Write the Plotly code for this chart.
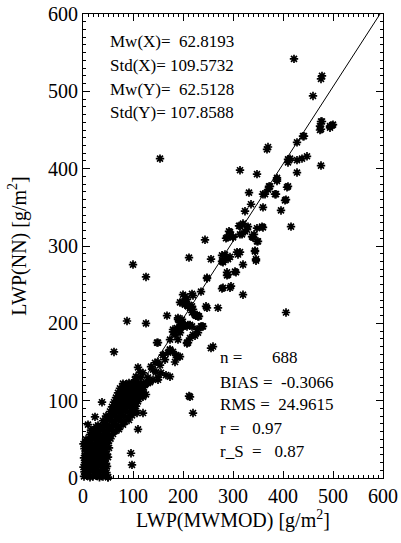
import plotly.graph_objects as go

# ---- data (LWP(MWMOD) , LWP(NN)), g/m^2 ----
cluster_points = [
    (2,2),(8,3),(14,1),(20,2),(27,3),(33,1),(40,2),(46,3),(50,1),
    (3,8),(10,7),(16,9),(23,8),(29,7),(36,9),(42,8),(47,7),
    (1,14),(7,13),(13,15),(19,14),(25,13),(31,15),(38,14),(44,13),(48,15),
    (4,20),(10,19),(16,21),(22,20),(28,19),(35,21),(41,20),(46,19),
    (2,26),(8,25),(14,27),(20,26),(26,25),(33,27),(39,26),(45,25),(50,27),
    (5,32),(11,31),(17,33),(23,32),(30,31),(36,33),(42,32),(48,31),
    (3,38),(9,37),(15,39),(21,38),(28,37),(34,39),(40,38),(46,37),(52,39),
    (1,44),(7,43),(13,45),(19,44),(26,43),(32,45),(38,44),(44,43),(50,45),
    (6,50),(12,49),(18,51),(24,50),(30,49),(37,51),(43,50),(49,49),(55,51),
    (14,56),(20,55),(24,57),(28,56),(34,55),(41,57),(47,56),(53,55),(60,57),
    (22,62),(28,61),(34,63),(40,62),(46,61),(52,63),(58,62),(65,61),(72,63),
    (30,68),(36,67),(42,69),(48,68),(54,67),(60,69),(66,68),(72,67),(80,69),
    (40,74),(46,73),(52,75),(58,74),(64,73),(70,75),(76,74),(84,73),(92,75),
    (46,80),(52,79),(58,81),(64,80),(70,79),(76,81),(82,80),(90,79),(98,81),
    (54,86),(60,85),(66,87),(72,86),(78,85),(84,87),(90,86),(98,85),(104,87),
    (58,92),(64,91),(70,93),(76,92),(82,91),(88,93),(94,92),(100,91),(106,93),
    (62,98),(68,97),(74,99),(80,98),(86,97),(92,99),(98,98),(104,97),(110,99),
    (66,104),(72,103),(78,105),(84,104),(90,103),(96,105),(102,104),(108,103),(114,105),
    (70,110),(76,109),(82,111),(88,110),(94,109),(100,111),(106,110),(112,109),(118,111),
    (74,116),(80,115),(86,117),(92,116),(98,115),(104,117),(110,116),(116,115),(122,117),
    (80,122),(86,121),(92,123),(98,122),(104,121),(110,123),(116,122),(124,121),(130,123),
    (10,69),(16,62),(26,66),(24,79),(38,98),(50,1),(96,32),(98,17),(110,63),
    (108,84),(120,84),(106,124),(130,124),(150,127),
]

band_points = [
    (84,111),(90,110),(96,108),(104,111),(114,110),(120,111),(126,108),
    (86,105),(100,104),(110,105),(120,105),
    (104,127),(106,123),(100,118),(110,117),(116,118),
    (130,130),(134,124),(126,123),(140,127),(150,130),
    (110,143),(114,137),(120,136),(106,131),(116,130),
    (136,144),(140,140),(146,137),(156,136),(166,133),(174,131),
    (150,150),(144,149),(154,146),(160,159),(164,153),
    (174,166),(170,162),(186,159),(194,157),(184,150),
    (180,189),(184,185),(174,179),(190,179),
    (196,202),(194,192),(204,198),(214,197),
    (236,196),(230,188),(224,184),(226,210),
    (194,227),(204,225),(212,224),
    (148,175),(210,175),(256,168),(212,106),(220,84),(214,105),
    (62,163),(88,203),(126,200),(168,210),(150,175),(208,174),(260,170),
    (174,166),(180,163),(160,159),(190,157),(188,156),
    (188,192),(184,188),(228,192),(220,185),(214,181),
    (190,207),(198,205),(214,198),(208,196),(194,201),(240,196),
    (190,205),(198,201),(204,197),(210,198),(218,196),(188,194),(194,194),
    (218,214),(230,209),(224,211),(238,196),(208,175),
    (180,192),(194,188),(200,196),
    (200,227),(210,222),(218,222),(248,220),(270,220),(228,211),(232,209),
    (200,237),(208,231),(218,238),(220,236),(204,235),(236,241),(246,222),
    (198,227),(204,224),(214,220),(220,218),(230,209),
    (100,276),(126,260),(212,285),(244,308),(256,283),(248,259),(248,258),
    (280,246),(294,246),(296,248),(278,245),(320,237),
    (278,280),(290,283),(284,289),(280,281),(280,279),
    (304,267),(290,263),(288,262),(288,266),(306,266),
    (308,292),(314,292),(310,289),(294,286),(278,288),
    (320,276),(344,293),(346,281),(344,294),(346,283),
]

upper_points = [
    (288,311),(294,318),(300,312),(286,310),(300,311),(314,315),
    (314,326),(318,315),(324,319),(312,326),(292,319),(320,329),
    (330,325),(338,312),(342,315),(350,306),(340,311),(348,306),
    (360,324),(358,325),(328,321),(348,323),(416,325),
    (324,345),(336,354),(360,350),(396,346),(406,360),(404,359),
    (360,367),(364,367),(332,369),(386,367),(384,367),(408,376),(410,377),
    (372,377),(374,377),(370,373),(388,384),(388,386),
    (154,413),(368,425),(370,428),(314,398),(348,393),(388,388),
    (410,412),(414,413),(412,411),(410,408),(428,411),(438,413),(448,416),
    (428,395),(476,404),(428,434),(440,442),(442,442),
    (476,451),(476,461),(478,461),(474,455),(474,450),
    (494,455),(498,456),(500,457),(494,453),
    (460,494),(476,516),(478,520),(422,542),(406,214),
]

all_points = cluster_points + band_points + upper_points
lwp_mwmod = [p[0] for p in all_points]
lwp_nn = [p[1] for p in all_points]

fit_intercept = 6.0
fit_slope = 1.0
fit_x = [0, (600 - fit_intercept) / fit_slope]
fit_y = [fit_intercept + fit_slope * v for v in fit_x]

stats_left = ["Mw(X)=  62.8193", "Std(X)= 109.5732", "Mw(Y)=  62.5128", "Std(Y)= 107.8588"]
stats_right = ["n =       688", "BIAS =  -0.3066", "RMS =  24.9615", "r =   0.97", "r_S  =   0.87"]

FONT = "Liberation Serif, Times New Roman, serif"

fig = go.Figure()
fig.add_trace(go.Scatter(
    x=lwp_mwmod, y=lwp_nn, mode="markers",
    marker=dict(symbol="asterisk-open", size=7, color="black",
                line=dict(color="black", width=1.7)),
    showlegend=False, hoverinfo="skip", cliponaxis=False))
fig.add_trace(go.Scatter(
    x=fit_x, y=fit_y, mode="lines",
    line=dict(color="black", width=1), showlegend=False, hoverinfo="skip"))

annotations = []
left_y = [564, 533, 503, 473]
for txt, yy in zip(stats_left, left_y):
    annotations.append(dict(x=50, y=yy, xref="x", yref="y", text=txt.replace(" ", "\u00a0"),
                            showarrow=False, xanchor="left", yanchor="middle",
                            font=dict(family=FONT, size=17, color="black")))
right_y = [156, 124, 95, 64, 34]
for txt, yy in zip(stats_right, right_y):
    annotations.append(dict(x=270, y=yy, xref="x", yref="y", text=txt.replace(" ", "\u00a0"),
                            showarrow=False, xanchor="left", yanchor="middle",
                            font=dict(family=FONT, size=17, color="black")))

axis_common = dict(
    range=[0, 600], dtick=100, tick0=0, automargin=False,
    ticks="inside", ticklen=7, tickwidth=1, tickcolor="black",
    showline=True, linecolor="black", linewidth=1, mirror="allticks",
    showgrid=False, zeroline=False,
    minor=dict(ticks="inside", dtick=10, ticklen=3, tickcolor="black", tickwidth=1, showgrid=False),
    tickfont=dict(family=FONT, size=20, color="black"),
)

fig.update_layout(
    width=401, height=543,
    margin=dict(l=83, r=18, t=14, b=65),
    paper_bgcolor="white", plot_bgcolor="white",
    xaxis=dict(**axis_common, title=dict(text="LWP(MWMOD) [g/m<sup>2</sup>]",
                                         font=dict(family=FONT, size=20, color="black"), standoff=4)),
    yaxis=dict(**axis_common, title=dict(text="LWP(NN) [g/m<sup>2</sup>]",
                                         font=dict(family=FONT, size=20, color="black"), standoff=16)),
    annotations=annotations,
)

fig.write_html("out.html", config={"displayModeBar": False, "staticPlot": True})

# remove the browser's default page margin so the figure sits at the window's corner
with open("out.html", "r", encoding="utf-8") as f:
    html = f.read()
html = html.replace("<head>", "<head><style>html,body{margin:0;padding:0;overflow:hidden;}</style>", 1)
with open("out.html", "w", encoding="utf-8") as f:
    f.write(html)
